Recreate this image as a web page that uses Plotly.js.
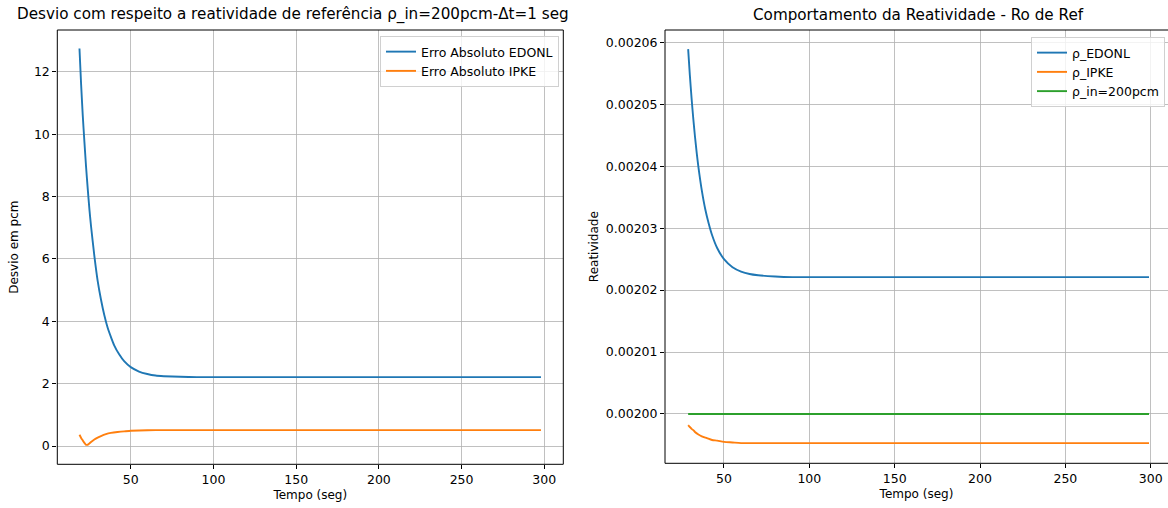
<!DOCTYPE html>
<html>
<head>
<meta charset="utf-8">
<script src="https://cdn.plot.ly/plotly-3.0.1.min.js"></script>
<style>
html,body{margin:0;padding:0;background:#fff;overflow:hidden;}
#chart{width:1168px;height:508px;}
</style>
</head>
<body>
<div id="chart"></div>
<script>
// ---- Left panel: absolute deviation (pcm) ----
const tErrEdonl = [19,20,21,22,23,24,25,26,28,30,32,34,36,38,40,43,46,50,55,60,65,70,80,90,100,150,200,250,298];
const errEdonl  = [12.75,11.6,10.6,9.75,8.95,8.25,7.6,7.05,6.1,5.3,4.7,4.2,3.8,3.5,3.23,2.94,2.72,2.53,2.39,2.31,2.26,2.24,2.22,2.21,2.21,2.21,2.21,2.21,2.21];
const tErrIpke  = [19,20,21,22,23,24,25,26,28,30,32,35,38,42,46,50,60,70,80,100,150,200,250,298];
const errIpke   = [0.36,0.26,0.18,0.10,0.04,0.04,0.08,0.13,0.21,0.27,0.32,0.38,0.42,0.45,0.47,0.49,0.505,0.51,0.51,0.51,0.51,0.51,0.51,0.51];

// ---- Right panel: reactivity ----
const tRhoEdonl = [29,30,31,32,33,34,35,37,39,41,43,46,50,55,60,65,70,80,90,100,150,200,250,299];
const rhoEdonl  = [0.0020589,0.0020547,0.0020510,0.0020477,0.0020448,0.0020422,0.0020399,0.0020361,0.0020331,0.0020308,0.0020289,0.0020268,0.0020250,0.0020237,0.0020230,0.0020226,0.0020224,0.0020222,0.0020221,0.0020221,0.0020221,0.0020221,0.0020221,0.0020221];
const tRhoIpke  = [29,30,31,32,33,35,37,40,43,46,50,55,60,70,100,150,200,250,299];
const rhoIpke   = [0.0019982,0.0019979,0.0019976,0.0019974,0.0019971,0.0019967,0.0019964,0.0019961,0.0019958,0.0019957,0.0019955,0.0019954,0.0019953,0.0019953,0.0019953,0.0019953,0.0019953,0.0019953,0.0019953];
const tRhoIn    = [29,299];
const rhoIn     = [0.002,0.002];

const leftTitle  = "Desvio com respeito a reatividade de referência ρ_in=200pcm-Δt=1 seg";
const rightTitle = "Comportamento da Reatividade - Ro de Ref";

const FONT = "DejaVu Sans, sans-serif";
const C_BLUE = "#1f77b4", C_ORANGE = "#ff7f0e", C_GREEN = "#2ca02c";
const TICK = 12.5, LAB = 12, LEG = 12.5, TTL = 15.2;

const traces = [
  {x:tErrEdonl, y:errEdonl, name:"Erro Absoluto EDONL", mode:"lines", line:{color:C_BLUE,width:1.9,shape:"spline",smoothing:0.6}, xaxis:"x", yaxis:"y", legend:"legend"},
  {x:tErrIpke, y:errIpke, name:"Erro Absoluto IPKE", mode:"lines", line:{color:C_ORANGE,width:1.9,shape:"spline",smoothing:0.4}, xaxis:"x", yaxis:"y", legend:"legend"},
  {x:tRhoEdonl, y:rhoEdonl, name:"ρ_EDONL", mode:"lines", line:{color:C_BLUE,width:1.9,shape:"spline",smoothing:0.6}, xaxis:"x2", yaxis:"y2", legend:"legend2"},
  {x:tRhoIpke, y:rhoIpke, name:"ρ_IPKE", mode:"lines", line:{color:C_ORANGE,width:1.9,shape:"spline",smoothing:0.8}, xaxis:"x2", yaxis:"y2", legend:"legend2"},
  {x:tRhoIn, y:rhoIn, name:"ρ_in=200pcm", mode:"lines", line:{color:C_GREEN,width:1.9}, xaxis:"x2", yaxis:"y2", legend:"legend2"}
];

const W = 1168, H = 508;
const axCommon = {
  showgrid:true, gridcolor:"#b0b0b0", gridwidth:0.8, zeroline:false,
  ticks:"outside", ticklen:4, tickwidth:1, tickcolor:"#000",
  tickfont:{family:FONT,size:TICK,color:"#000"}, showline:false
};
const legCommon = {
  font:{family:FONT,size:LEG,color:"#000"}, bgcolor:"rgba(255,255,255,0.8)",
  bordercolor:"#d0d0d0", borderwidth:1, xanchor:"right", yanchor:"top",
  itemwidth:30, tracegroupgap:0
};

const layout = {
  width:W, height:H, margin:{l:0,r:0,t:0,b:0},
  paper_bgcolor:"#fff", plot_bgcolor:"#fff",
  font:{family:FONT,size:TICK,color:"#000"},
  showlegend:true,
  xaxis:Object.assign({}, axCommon, {domain:[57.3/W, 563.3/W], range:[5.6,311.5], tickvals:[50,100,150,200,250,300], anchor:"y",
    title:{text:"Tempo (seg)", font:{family:FONT,size:LAB,color:"#000"}, standoff:4}}),
  yaxis:Object.assign({}, axCommon, {domain:[(H-464.3)/H, (H-30)/H], range:[-0.587,13.346], tickvals:[0,2,4,6,8,10,12], anchor:"x",
    title:{text:"Desvio em pcm", font:{family:FONT,size:LAB,color:"#000"}, standoff:12}}),
  xaxis2:Object.assign({}, axCommon, {domain:[665/W, 1], range:[15.44,310.13], tickvals:[50,100,150,200,250,300], anchor:"y2",
    title:{text:"Tempo (seg)", font:{family:FONT,size:LAB,color:"#000"}, standoff:4}}),
  yaxis2:Object.assign({}, axCommon, {domain:[(H-463.3)/H, (H-30)/H], range:[0.00199204,0.00206199],
    tickvals:[0.00200,0.00201,0.00202,0.00203,0.00204,0.00205,0.00206], tickformat:".5f", anchor:"x2",
    title:{text:"Reatividade", font:{family:FONT,size:LAB,color:"#000"}, standoff:4}}),
  legend:Object.assign({}, legCommon, {x:559/W, y:(H-36)/H}),
  legend2:Object.assign({}, legCommon, {x:1165/W, y:(H-37)/H}),
  shapes:[
    {type:"rect", xref:"x domain", yref:"y domain", x0:0, x1:1, y0:0, y1:1, line:{color:"#000",width:1}, layer:"above"},
    {type:"rect", xref:"x2 domain", yref:"y2 domain", x0:0, x1:1.02, y0:0, y1:1, line:{color:"#000",width:1}, layer:"above"}
  ],
  annotations:[
    {text:leftTitle, xref:"paper", yref:"paper", x:293/W, y:(H-15)/H, xanchor:"center", yanchor:"middle", showarrow:false,
     font:{family:FONT,size:TTL,color:"#000"}},
    {text:rightTitle, xref:"paper", yref:"paper", x:918/W, y:(H-15)/H, xanchor:"center", yanchor:"middle", showarrow:false,
     font:{family:FONT,size:TTL,color:"#000"}}
  ]
};

Plotly.newPlot("chart", traces, layout, {displayModeBar:false, staticPlot:true});
</script>
</body>
</html>
